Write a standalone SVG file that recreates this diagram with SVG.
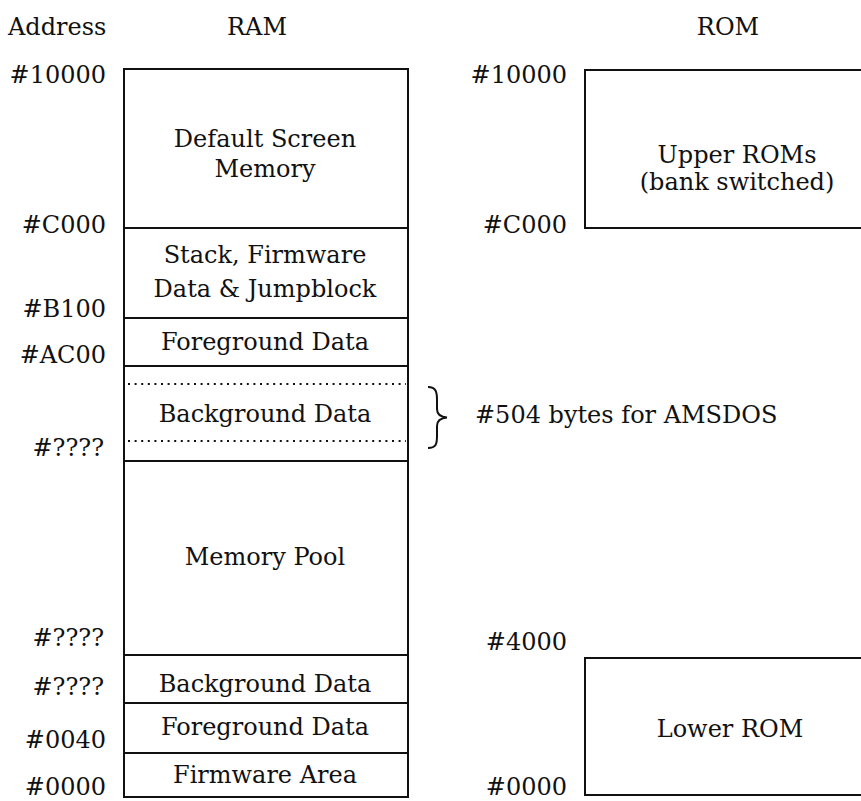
<svg xmlns="http://www.w3.org/2000/svg" width="861" height="801" viewBox="0 0 861 801">
<style>
text{font-family:"DejaVu Serif","Liberation Serif",serif;font-size:24px;fill:#111}
.c{text-anchor:middle}
.r{text-anchor:end}
.box{fill:none;stroke:#111;stroke-width:2}
.ln{stroke:#111;stroke-width:2}
.dot{stroke:#111;stroke-width:2;stroke-dasharray:2 4.6}
</style>
<rect width="861" height="801" fill="#fff"/>
<g id="headers">
<text x="8" y="35">Address</text>
<text class="c" x="257" y="35">RAM</text>
<text class="c" x="728" y="35">ROM</text>
</g>
<g id="ram-addresses">
<text class="r" x="106" y="83">#10000</text>
<text class="r" x="106" y="233">#C000</text>
<text class="r" x="106" y="317">#B100</text>
<text class="r" x="106" y="363">#AC00</text>
<text class="r" x="104" y="456">#????</text>
<text class="r" x="104" y="646">#????</text>
<text class="r" x="104" y="695">#????</text>
<text class="r" x="106" y="748">#0040</text>
<text class="r" x="106" y="795">#0000</text>
</g>
<g id="ram">
<rect class="box" x="124" y="69" width="284" height="728"/>
<line class="ln" x1="124" y1="228" x2="408" y2="228"/>
<line class="ln" x1="124" y1="318" x2="408" y2="318"/>
<line class="ln" x1="124" y1="366" x2="408" y2="366"/>
<line class="ln" x1="124" y1="461" x2="408" y2="461"/>
<line class="ln" x1="124" y1="655" x2="408" y2="655"/>
<line class="ln" x1="124" y1="703" x2="408" y2="703"/>
<line class="ln" x1="124" y1="753" x2="408" y2="753"/>
<line class="dot" x1="128" y1="384" x2="406" y2="384"/>
<line class="dot" x1="128" y1="441" x2="406" y2="441"/>
</g>
<g id="screen"><text class="c" x="265" y="147">Default Screen</text><text class="c" x="265" y="177">Memory</text></g>
<g id="stack"><text class="c" x="265" y="263">Stack, Firmware</text><text class="c" x="265" y="297">Data &amp; Jumpblock</text></g>
<g id="fg-high"><text class="c" x="265" y="350">Foreground Data</text></g>
<g id="bg-high"><text class="c" x="265" y="422">Background Data</text></g>
<g id="pool"><text class="c" x="265" y="565">Memory Pool</text></g>
<g id="bg-low"><text class="c" x="265" y="692">Background Data</text></g>
<g id="fg-low"><text class="c" x="265" y="735">Foreground Data</text></g>
<g id="firmware"><text class="c" x="265" y="783">Firmware Area</text></g>
<g id="amsdos">
<path d="M428,387 C436,387 437,392 437,400 L437,409 C437,414 440,417 447,417.5 C440,418 437,421 437,426 L437,436 C437,444 436,448 428,448" fill="none" stroke="#111" stroke-width="2"/>
<text x="475" y="423">#504 bytes for AMSDOS</text>
</g>
<g id="rom-addresses">
<text class="r" x="567" y="83">#10000</text>
<text class="r" x="567" y="233">#C000</text>
<text class="r" x="567" y="650">#4000</text>
<text class="r" x="567" y="795">#0000</text>
</g>
<g id="upper-rom">
<rect class="box" x="585" y="70" width="300" height="158"/>
<text class="c" x="737" y="163">Upper ROMs</text>
<text class="c" x="737" y="190">(bank switched)</text>
</g>
<g id="lower-rom">
<rect class="box" x="585" y="658" width="300" height="137"/>
<text class="c" x="730" y="737">Lower ROM</text>
</g>
</svg>
